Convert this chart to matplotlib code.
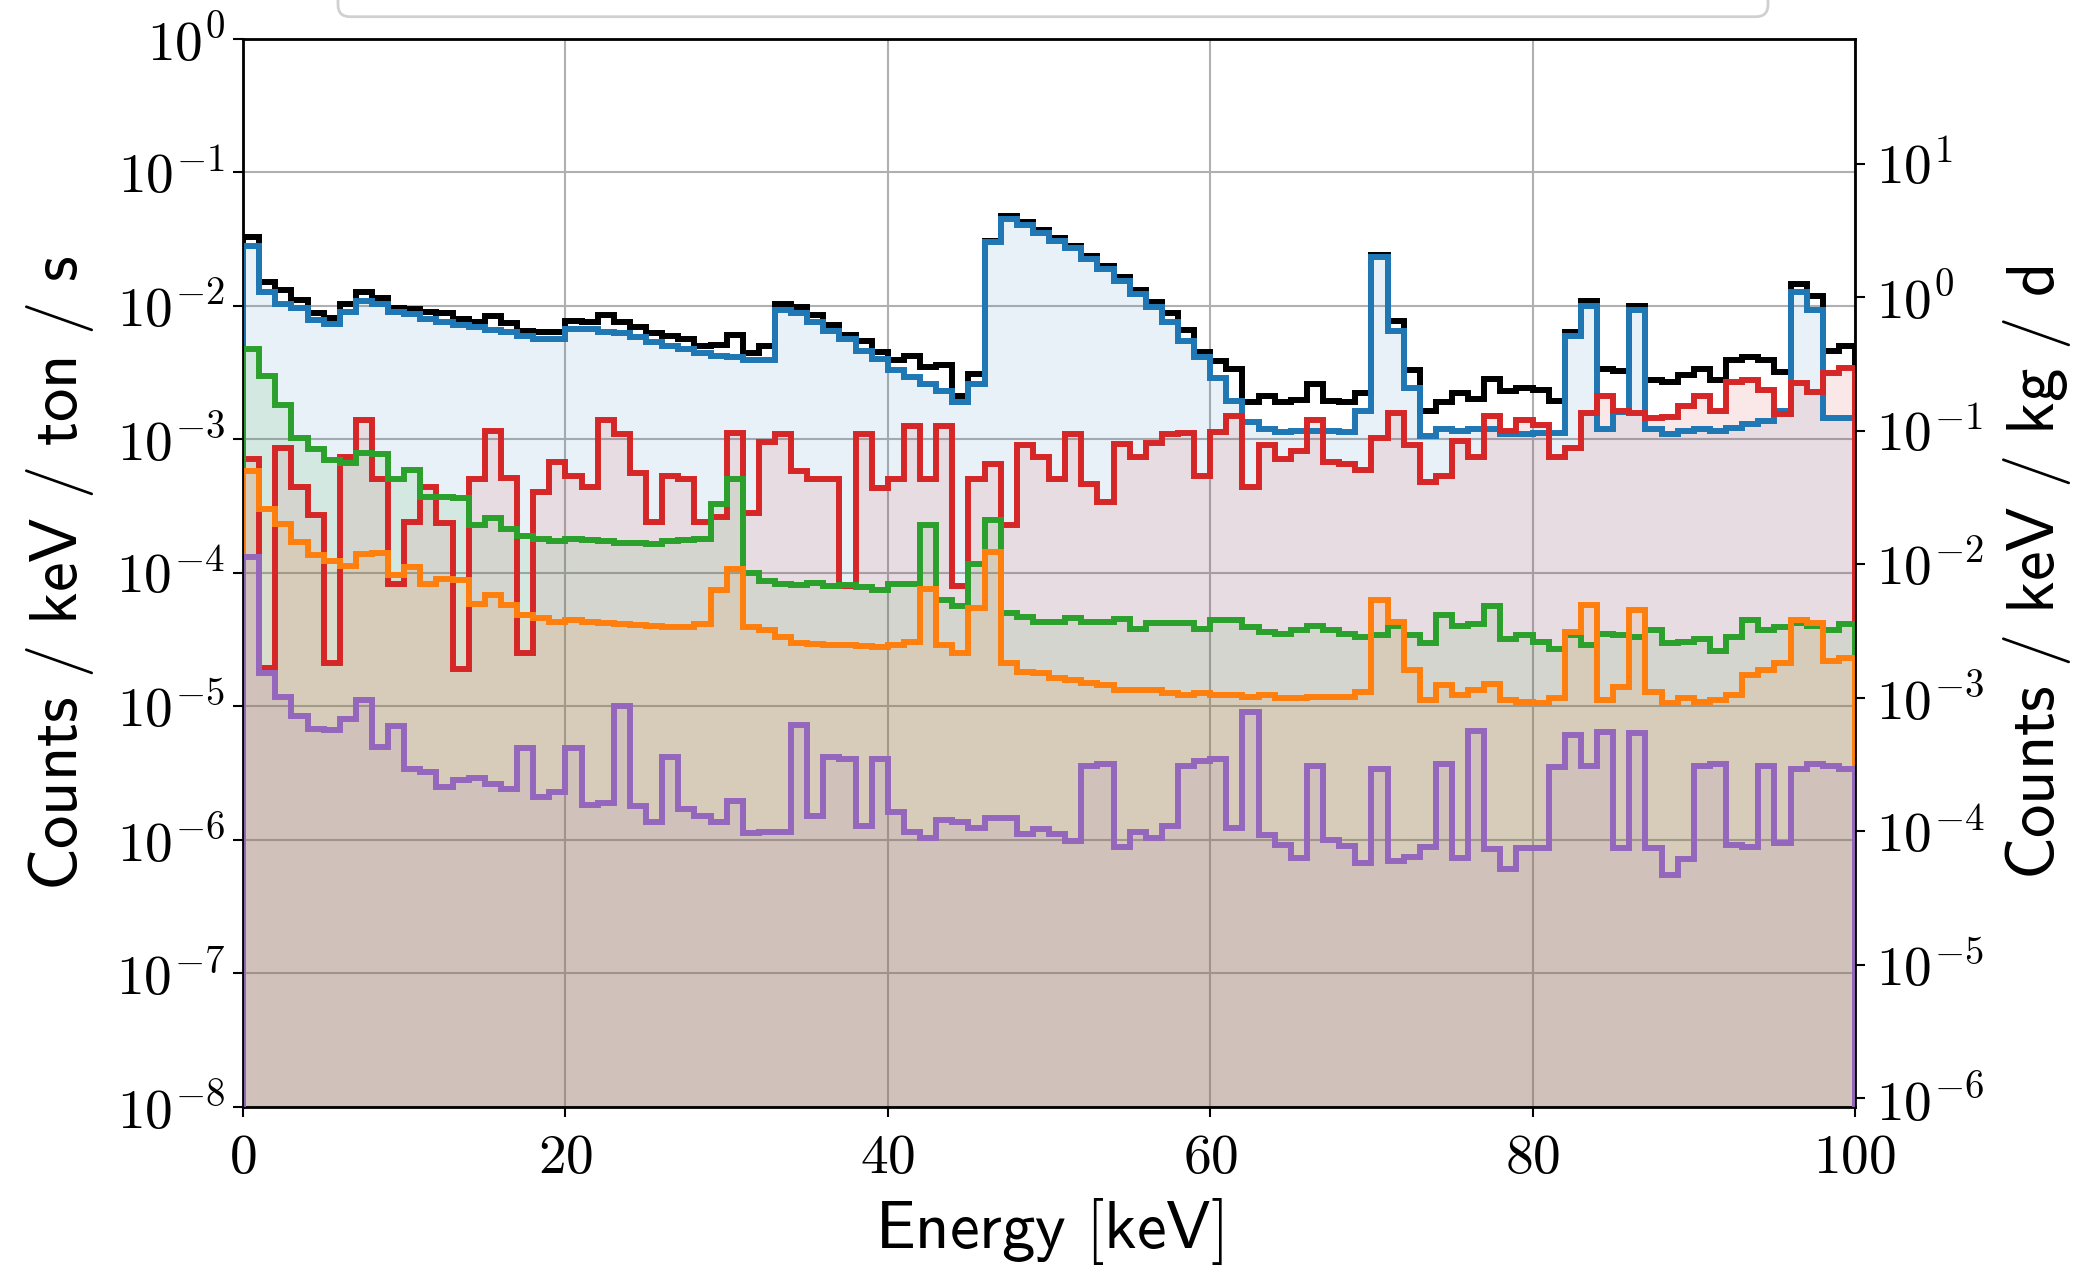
import numpy as np
import matplotlib
matplotlib.use("Agg")
import matplotlib.pyplot as plt
from matplotlib.patches import FancyBboxPatch
from matplotlib.ticker import FixedLocator, FuncFormatter, NullLocator

plt.rcParams['mathtext.fontset'] = 'cm'

# 1 keV bins, 0-100 keV
edges = np.arange(0, 101, 1)

total = [0.0325, 0.0151, 0.0130, 0.0111, 0.00875, 0.0081, 0.0102, 0.0126, 0.0115, 0.0096,
         0.0095, 0.0089, 0.0088, 0.0079, 0.0076, 0.0084, 0.0074, 0.0065, 0.0063, 0.0064,
         0.0077, 0.0076, 0.0085, 0.0076, 0.0069, 0.0062, 0.0059, 0.0056, 0.0050, 0.0051,
         0.0060, 0.0044, 0.0050, 0.0102, 0.0098, 0.0085, 0.0072, 0.0060, 0.0054, 0.0045,
         0.0039, 0.0042, 0.0035, 0.0036, 0.0021, 0.0031, 0.0306, 0.0467, 0.0422, 0.0367,
         0.0320, 0.0280, 0.0237, 0.0198, 0.0163, 0.0131, 0.0106, 0.0088, 0.0066, 0.0045,
         0.00387, 0.00333, 0.0019, 0.0021, 0.0019, 0.00198, 0.0026, 0.00194, 0.0019, 0.0022,
         0.0240, 0.0077, 0.0033, 0.00162, 0.0019, 0.0022, 0.0020, 0.0028, 0.0023, 0.0024,
         0.00232, 0.00193, 0.00636, 0.0108, 0.00333, 0.00323, 0.0099, 0.00278, 0.0027, 0.0030,
         0.00333, 0.00278, 0.0039, 0.0041, 0.0039, 0.0032, 0.0146, 0.0118, 0.0046, 0.0050]

blue = [0.0281, 0.0126, 0.0102, 0.0096, 0.0078, 0.0073, 0.0090, 0.0108, 0.0103, 0.0090,
        0.0086, 0.0080, 0.0076, 0.0072, 0.0069, 0.0066, 0.0064, 0.0059, 0.0056, 0.0056,
        0.0067, 0.0067, 0.0064, 0.0062, 0.0058, 0.0053, 0.0050, 0.0047, 0.0044, 0.0042,
        0.0041, 0.0039, 0.0039, 0.0093, 0.0088, 0.0075, 0.0065, 0.0056, 0.0046, 0.0040,
        0.0033, 0.0029, 0.0026, 0.0023, 0.0019, 0.0026, 0.0300, 0.0447, 0.0404, 0.0350,
        0.0306, 0.0268, 0.0224, 0.0187, 0.0154, 0.0122, 0.0097, 0.0076, 0.0054, 0.0041,
        0.00286, 0.00193, 0.00135, 0.00119, 0.00113, 0.00116, 0.00116, 0.00116, 0.00113, 0.00162,
        0.0230, 0.0065, 0.0024, 0.00106, 0.0012, 0.00116, 0.00119, 0.0012, 0.0011, 0.0011,
        0.00112, 0.00112, 0.0059, 0.0099, 0.00119, 0.0016, 0.0093, 0.00119, 0.00109, 0.00116,
        0.00119, 0.00116, 0.00122, 0.00129, 0.00138, 0.00162, 0.0126, 0.0093, 0.00143, 0.00143]

red = [0.00071, 1.95e-5, 0.000865, 0.00044, 0.000271, 2.1e-5, 0.000734, 0.00139, 0.0005, 8.3e-5,
       0.00024, 0.00044, 0.000235, 1.9e-5, 0.0005, 0.00116, 0.00051, 2.5e-5, 0.0004, 0.00067,
       0.00053, 0.00044, 0.00139, 0.0011, 0.00056, 0.00024, 0.00053, 0.0005, 0.00024, 0.00026,
       0.00112, 0.00028, 0.00095, 0.0011, 0.00058, 0.0005, 0.0005, 8e-5, 0.0011, 0.00043,
       0.0005, 0.00126, 0.0005, 0.00126, 7.9e-5, 0.0005, 0.00065, 0.000226, 0.00091, 0.00074,
       0.0005, 0.0011, 0.00046, 0.00034, 0.00092, 0.00073, 0.00094, 0.0011, 0.00112, 0.00053,
       0.00113, 0.0015, 0.00044, 0.00091, 0.00071, 0.00081, 0.00139, 0.00067, 0.00065, 0.00059,
       0.00102, 0.00156, 0.00091, 0.00048, 0.00053, 0.00097, 0.00074, 0.00148, 0.00116, 0.00139,
       0.00127, 0.00074, 0.00086, 0.00157, 0.0021, 0.00162, 0.00157, 0.00143, 0.00147, 0.00176,
       0.0021, 0.00162, 0.0027, 0.00278, 0.00233, 0.00155, 0.00262, 0.00226, 0.00313, 0.00343]

green = [0.0047, 0.00295, 0.00179, 0.00102, 0.00085, 0.00070, 0.00066, 0.00079, 0.00078, 0.00050,
         0.00059, 0.00037, 0.00037, 0.00036, 0.000226, 0.000257, 0.000213, 0.000188, 0.000180, 0.000172,
         0.000180, 0.000177, 0.000172, 0.000167, 0.000168, 0.000165, 0.000172, 0.000176, 0.000180, 0.000325,
         0.00050, 0.000100, 8.6e-5, 8.2e-5, 8.1e-5, 8.4e-5, 7.9e-5, 8.1e-5, 7.8e-5, 7.4e-5,
         8.3e-5, 8.3e-5, 0.000226, 6.2e-5, 5.6e-5, 0.000116, 0.000248, 5.0e-5, 4.7e-5, 4.3e-5,
         4.3e-5, 4.6e-5, 4.3e-5, 4.3e-5, 4.5e-5, 3.8e-5, 4.2e-5, 4.2e-5, 4.2e-5, 3.8e-5,
         4.4e-5, 4.4e-5, 3.9e-5, 3.6e-5, 3.5e-5, 3.7e-5, 4.0e-5, 3.7e-5, 3.5e-5, 3.3e-5,
         3.4e-5, 4.0e-5, 3.4e-5, 3.0e-5, 4.8e-5, 4.0e-5, 4.1e-5, 5.6e-5, 3.2e-5, 3.4e-5,
         3.05e-5, 2.7e-5, 3.4e-5, 2.9e-5, 3.5e-5, 3.4e-5, 3.3e-5, 3.7e-5, 3.0e-5, 3.05e-5,
         3.2e-5, 2.6e-5, 3.3e-5, 4.4e-5, 3.7e-5, 3.9e-5, 4.2e-5, 4.0e-5, 3.7e-5, 4.1e-5]

orange = [0.000577, 0.000302, 0.000233, 0.000170, 0.000136, 0.000122, 0.000113, 0.000139, 0.000140, 9.7e-5,
          0.000110, 8.3e-5, 9.0e-5, 8.9e-5, 5.8e-5, 6.8e-5, 5.7e-5, 4.8e-5, 4.6e-5, 4.3e-5,
          4.4e-5, 4.3e-5, 4.2e-5, 4.1e-5, 4.05e-5, 4.0e-5, 3.95e-5, 3.9e-5, 4.1e-5, 7.4e-5,
          0.000106, 3.9e-5, 3.7e-5, 3.3e-5, 3.0e-5, 2.95e-5, 2.9e-5, 2.9e-5, 2.85e-5, 2.8e-5,
          2.9e-5, 3.05e-5, 7.6e-5, 2.9e-5, 2.5e-5, 5.4e-5, 0.000144, 2.1e-5, 1.82e-5, 1.77e-5,
          1.62e-5, 1.58e-5, 1.49e-5, 1.45e-5, 1.32e-5, 1.32e-5, 1.32e-5, 1.25e-5, 1.22e-5, 1.25e-5,
          1.22e-5, 1.22e-5, 1.18e-5, 1.22e-5, 1.15e-5, 1.15e-5, 1.18e-5, 1.18e-5, 1.18e-5, 1.28e-5,
          6.25e-5, 4.3e-5, 1.87e-5, 1.12e-5, 1.45e-5, 1.22e-5, 1.33e-5, 1.48e-5, 1.12e-5, 1.07e-5,
          1.06e-5, 1.15e-5, 3.6e-5, 5.7e-5, 1.11e-5, 1.4e-5, 5.25e-5, 1.28e-5, 1.05e-5, 1.15e-5,
          1.08e-5, 1.11e-5, 1.22e-5, 1.71e-5, 1.87e-5, 2.1e-5, 4.4e-5, 4.2e-5, 2.2e-5, 2.3e-5]

purple = [1.32e-4, 1.77e-5, 1.18e-5, 8.4e-6, 6.8e-6, 6.7e-6, 8.0e-6, 1.11e-5, 5.0e-6, 7.1e-6,
          3.4e-6, 3.2e-6, 2.5e-6, 2.8e-6, 2.9e-6, 2.6e-6, 2.4e-6, 4.85e-6, 2.1e-6, 2.3e-6,
          4.9e-6, 1.83e-6, 1.9e-6, 1.0e-5, 1.8e-6, 1.35e-6, 4.2e-6, 1.7e-6, 1.5e-6, 1.35e-6,
          1.97e-6, 1.12e-6, 1.15e-6, 1.14e-6, 7.2e-6, 1.5e-6, 4.2e-6, 4.0e-6, 1.27e-6, 4.0e-6,
          1.63e-6, 1.15e-6, 1.03e-6, 1.41e-6, 1.35e-6, 1.22e-6, 1.45e-6, 1.45e-6, 1.1e-6, 1.2e-6,
          1.1e-6, 9.8e-7, 3.6e-6, 3.7e-6, 8.9e-7, 1.15e-6, 1.03e-6, 1.26e-6, 3.6e-6, 3.9e-6,
          4.0e-6, 1.22e-6, 9.1e-6, 1.09e-6, 9.2e-7, 7.3e-7, 3.6e-6, 1.0e-6, 9.0e-7, 6.7e-7,
          3.4e-6, 6.9e-7, 7.5e-7, 8.9e-7, 3.7e-6, 7.3e-7, 6.5e-6, 8.5e-7, 6.0e-7, 8.7e-7,
          8.7e-7, 3.5e-6, 6.1e-6, 3.6e-6, 6.4e-6, 8.7e-7, 6.3e-6, 8.7e-7, 5.5e-7, 7.2e-7,
          3.6e-6, 3.7e-6, 9.2e-7, 8.8e-7, 3.6e-6, 9.4e-7, 3.4e-6, 3.7e-6, 3.6e-6, 3.4e-6]

ymin, ymax = 1e-8, 1.0
to_kg_day = 86400 / 1000.0   # ton/s -> kg/d

fig = plt.figure(figsize=(20.81, 12.67), dpi=100)
ax = fig.add_axes([0.1168, 0.1263, 0.7746, 0.8433])
ax.set_yscale('log')

components = [(blue, 'tab:blue'), (red, 'tab:red'), (green, 'tab:green'),
              (orange, 'tab:orange'), (purple, 'tab:purple')]

for vals, col in components:
    ax.stairs(vals, edges, baseline=ymin, fill=True, color=col, alpha=0.1, lw=0)

lw = 4.3
ax.stairs(total, edges, baseline=ymin, color='black', lw=lw, zorder=3)
for vals, col in [(blue, 'tab:blue'), (red, 'tab:red'), (green, 'tab:green'),
                  (orange, 'tab:orange'), (purple, 'tab:purple')]:
    ax.stairs(vals, edges, baseline=ymin, color=col, lw=lw, zorder=3)

ax.set_xlim(0, 100)
ax.set_ylim(ymin, ymax)
ax.set_axisbelow(True)
ax.grid(True, color='#b0b0b0', lw=1.5)

ax.xaxis.set_major_locator(FixedLocator([0, 20, 40, 60, 80, 100]))
ax.xaxis.set_major_formatter(FuncFormatter(lambda v, p: r'$%d$' % v))
ax.yaxis.set_major_locator(FixedLocator([10.0 ** k for k in range(-8, 1)]))
ax.yaxis.set_minor_locator(NullLocator())
logfmt = FuncFormatter(lambda v, p: r'$10^{%d}$' % int(round(np.log10(v))))
ax.yaxis.set_major_formatter(logfmt)
ax.tick_params(labelsize=40, width=1.5, length=7, pad=6)
ax.tick_params(axis='x', pad=10)

for s in ax.spines.values():
    s.set_linewidth(2)

ax2 = ax.twinx()
ax2.set_yscale('log')
ax2.set_ylim(ymin * to_kg_day, ymax * to_kg_day)
ax2.yaxis.set_major_locator(FixedLocator([10.0 ** k for k in range(-6, 2)]))
ax2.yaxis.set_minor_locator(NullLocator())
ax2.yaxis.set_major_formatter(logfmt)
ax2.tick_params(labelsize=40, width=1.5, length=7, pad=8)

ax.set_xlabel(r'$\mathsf{Energy\ [keV]}$', fontsize=48, labelpad=8)
ax.set_ylabel(r'$\mathsf{Counts\ /\ keV\ /\ ton\ /\ s}$', fontsize=48, labelpad=14)
ax2.set_ylabel(r'$\mathsf{Counts\ /\ keV\ /\ kg\ /\ d}$', fontsize=48, labelpad=12)

# legend frame sitting above the plot (its entries fall outside the canvas)
frame = FancyBboxPatch((3.38, 12.503), 14.30, 1.0,
                       boxstyle='round,pad=0,rounding_size=0.12',
                       transform=fig.dpi_scale_trans, facecolor='white',
                       edgecolor='#d0d0d0', lw=2)
fig.patches.append(frame)

fig.savefig('out.png', dpi=100)
